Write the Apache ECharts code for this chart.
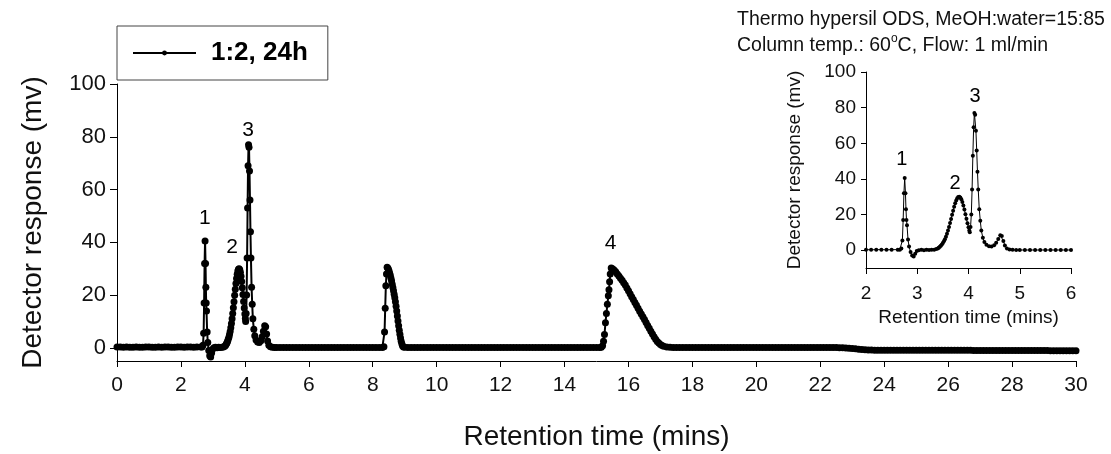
<!DOCTYPE html>
<html>
<head>
<meta charset="utf-8">
<script src="https://cdn.jsdelivr.net/npm/echarts@6/dist/echarts.min.js"></script>
<style>
  html, body { margin: 0; padding: 0; background: #fff; }
  #chart { width: 1111px; height: 454px; }
</style>
</head>
<body>
<div id="chart"></div>
<script>
// chromatogram, 1:2 24h sample. baseline runs are sampled every 0.1 min,
// peak regions are listed point by point
var seriesName = '1:2, 24h';
var sampleStep = 0.1;

var base0 = [0.3,0.3,0.2,0.3,0.2,0.2,0.3,0.2,0.2,0.3,
             0.3,0.2,0.2,0.3,0.2,0.3,0.3,0.2,0.2,0.3,
             0.3,0.2,0.3,0.3,0.2,0.3];            // 0.0 - 2.5

var peaks123 = [
  [2.62,0.3],[2.66,0.3],[2.69,1],[2.71,5.5],[2.725,17],[2.74,32],[2.755,40.5],[2.77,32],
  [2.78,23],[2.79,17],[2.80,14],[2.82,6],[2.84,2],[2.87,-1],[2.9,-3],[2.93,-3.5],[2.96,-2],
  [2.99,-0.5],[3.03,0],[3.08,0.2],[3.13,0],[3.18,0.2],[3.23,0.1],[3.28,0.2],[3.33,0.3],
  [3.37,0.6],[3.40,1.0],[3.42,1.4],[3.44,1.9],[3.46,2.5],[3.48,3.2],[3.50,4.0],[3.52,5.0],
  [3.54,6.2],[3.56,7.6],[3.58,9.2],[3.60,11.0],[3.62,13.0],[3.64,15.2],[3.66,17.5],[3.68,19.9],
  [3.70,22.2],[3.72,24.4],[3.74,26.3],[3.76,27.9],[3.78,29.1],[3.80,29.8],[3.82,30.0],[3.84,29.6],
  [3.86,28.6],[3.88,27.1],[3.90,25.1],[3.92,22.8],[3.94,20.2],[3.96,17.6],[3.98,15.1],[4.00,12.8],
  [4.015,11.1],[4.025,10],[4.04,13],[4.055,20],
  [4.07,34],[4.085,53],[4.10,69],[4.115,77],[4.13,76],[4.145,67],[4.16,56],[4.175,44],
  [4.19,34],[4.21,23],[4.23,16.5],[4.25,11],[4.28,7],[4.31,4.6],[4.35,3],[4.40,2.2],
  [4.45,2],[4.50,2.7],[4.54,4.2],[4.58,6.3],[4.62,8.4],[4.65,8],[4.68,5.2],[4.71,2.6],
  [4.75,1],[4.80,0.4],[4.86,0.2],[4.93,0.1],[5.0,0.1]
];

var base5 = [0.1,0.1,0.1,0.1,0.1,0.1,0.1,0.1,0.1,0.1,
             0.1,0.1,0.1,0.1,0.1,0.1,0.1,0.1,0.1,0.1,
             0.1,0.1,0.1,0.1,0.1,0.1,0.1,0.1,0.1,0.1,
             0.1,0.1];                             // 5.1 - 8.2

var peak8 = [
  [8.30,0.1],[8.35,0.4],[8.37,6],[8.39,15],[8.41,23.5],[8.43,28],[8.45,30.5],[8.47,30.3],
  [8.49,29.8],[8.51,29.1],[8.53,28.3],[8.55,27.4],[8.57,26.4],[8.59,25.3],[8.61,24.1],[8.63,22.9],
  [8.65,21.6],[8.67,20.3],[8.69,19.0],[8.71,17.5],[8.73,15.8],[8.75,14.0],[8.77,12.1],[8.79,10.2],
  [8.81,8.4],[8.83,6.7],[8.85,5.1],[8.87,3.7],[8.89,2.5],[8.91,1.5],[8.93,0.8],[8.96,0.3],[9.0,0.2]
];

var base9 = [0.1,0.1,0.1,0.1,0.1,0.1,0.1,0.1,0.1,0.1,
             0.1,0.1,0.1,0.1,0.1,0.1,0.1,0.1,0.1,0.1,
             0.1,0.1,0.1,0.1,0.1,0.1,0.1,0.1,0.1,0.1,
             0.1,0.1,0.1,0.1,0.1,0.1,0.1,0.1,0.1,0.1,
             0.1,0.1,0.1,0.1,0.1,0.1,0.1,0.1,0.1,0.1,
             0.1,0.1,0.1,0.1,0.1,0.1,0.1,0.1,0.1,0.1,
             0.1];                                 // 9.1 - 15.1

var peak15 = [
  [15.15,0.2],[15.19,0.8],[15.22,2.5],[15.25,5],[15.28,9.5],[15.31,13],[15.34,16.5],[15.37,19.7],
  [15.39,22],[15.41,25],[15.43,28],[15.46,30.3],[15.50,30],[15.55,29.5],[15.60,28.8],[15.65,28],
  [15.70,27.2],[15.75,26.4],[15.80,25.6],[15.85,24.7],[15.90,23.8],[15.95,22.7],[16.00,21.6],
  [16.05,20.5],[16.10,19.4],[16.15,18.3],[16.20,17.2],[16.25,16.1],[16.30,15.0],[16.35,13.9],
  [16.40,12.8],[16.45,11.8],[16.50,10.7],[16.55,9.6],[16.60,8.5],[16.65,7.4],[16.70,6.3],
  [16.75,5.2],[16.80,4.2],[16.85,3.2],[16.90,2.4],[16.95,1.8],[17.00,1.3],[17.05,0.9],
  [17.10,0.6],[17.20,0.3],[17.30,0.2],[17.40,0.1]
];

var base17 = [0.1,0.1,0.1,0.1,0.1,0.1,0.1,0.1,0.1,0.1,
              0.1,0.1,0.1,0.1,0.1,0.1,0.1,0.1,0.1,0.1,
              0.1,0.1,0.1,0.1,0.1,0.1,0.1,0.1,0.1,0.1,
              0.1,0.1,0.1,0.1,0.1,0.1,0.1,0.1,0.1,0.1,
              0.1,0.1,0.1,0.1,0.1,0.1,0.1,0.1,0.1,0.1,
              0.1,0,0,-0.1,-0.2,-0.3,-0.4,-0.5,-0.6,-0.7,
              -0.8,-0.8,-0.9,-0.9,-0.9,-0.9,-0.9,-0.9,-0.9,-0.9,
              -0.9,-0.9,-0.9,-0.9,-0.9,-0.9,-0.9,-0.9,-0.9,-0.9,
              -0.9,-0.9,-0.9,-0.9,-0.9,-0.9,-0.9,-0.9,-0.9,-0.9,
              -0.9,-0.9,-0.9,-1,-1,-1,-1,-1,-1,-1,
              -1,-1,-1,-1,-1,-1,-1,-1,-1,-1,
              -1,-1,-1,-1,-1,-1,-1,-1.1,-1.1,-1.1,
              -1.1,-1.1,-1.1,-1.1,-1.1,-1.1];      // 17.5 - 30.0

var mainYTicks = [0, 20, 40, 60, 80, 100];
var insetYTicks = [0, 20, 40, 60, 80, 100];

// peak numbers: label, time, height of the label
var peakNames = ['1', '2', '3', '4'];
var peakNameT = [2.75, 3.6, 4.1, 15.44];
var peakNameY = [49, 38, 82.5, 39.5];
var insetNames = ['1', '2', '3'];
var insetNameT = [2.7, 3.74, 4.13];
var insetNameY = [51, 37.6, 86];

function addRun(out, start, values) {
    values.forEach(function (v, i) {
        out.push([+(start + i * sampleStep).toFixed(2), v]);
    });
}

var trace = [];
addRun(trace, 0, base0);
trace = trace.concat(peaks123);
addRun(trace, 5.1, base5);
trace = trace.concat(peak8);
addRun(trace, 9.1, base9);
trace = trace.concat(peak15);
addRun(trace, 17.5, base17);

var insetTrace = trace.filter(function (p) { return p[0] >= 2 && p[0] <= 6; });

var mainLabels = peakNames.map(function (n, i) { return [peakNameT[i], peakNameY[i], n]; });
var insetLabels = insetNames.map(function (n, i) { return [insetNameT[i], insetNameY[i], n]; });

var font = 'Liberation Sans, Arial, sans-serif';
var ink = '#111';

var myChart = echarts.init(document.getElementById('chart'));
var option = {
    backgroundColor: '#fff',
    animation: false,
    title: {
        text: 'Thermo hypersil ODS, MeOH:water=15:85\nColumn temp.: 60{sup|o}C, Flow: 1 ml/min',
        left: 737,
        top: 7,
        padding: 0,
        textStyle: {
            fontFamily: font, fontSize: 19.5, fontWeight: 'normal', color: ink, lineHeight: 26,
            rich: {
                sup: { fontFamily: font, fontSize: 12, color: ink, verticalAlign: 'top', lineHeight: 20 }
            }
        }
    },
    legend: {
        data: [seriesName],
        left: 117,
        top: 26,
        padding: [14, 20, 14, 15],
        borderColor: '#444',
        borderWidth: 1,
        itemWidth: 63,
        itemHeight: 6,
        textStyle: { fontFamily: font, fontSize: 26, fontWeight: 'bold', color: '#000', padding: [0, 0, 0, 10] }
    },
    grid: [
        { left: 117, right: 35, top: 84, bottom: 93, outerBoundsMode: 'none' },
        { left: 866, right: 40, top: 72, bottom: 186, outerBoundsMode: 'none' }
    ],
    xAxis: [{
        gridIndex: 0, type: 'value', min: 0, max: 30, interval: 2,
        name: 'Retention time (mins)', nameLocation: 'middle', nameGap: 62,
        nameTextStyle: { fontFamily: font, fontSize: 28, color: ink },
        axisLine: { onZero: false, lineStyle: { color: '#000', width: 1 } },
        axisTick: { inside: false, length: 6, lineStyle: { color: '#000' } },
        axisLabel: { fontFamily: font, fontSize: 21, color: ink, margin: 14 },
        splitLine: { show: false }
    }, {
        gridIndex: 1, type: 'value', min: 2, max: 6, interval: 1,
        name: 'Retention time (mins)', nameLocation: 'middle', nameGap: 40,
        nameTextStyle: { fontFamily: font, fontSize: 19, color: ink },
        axisLine: { onZero: false, lineStyle: { color: '#000', width: 1 } },
        axisTick: { inside: false, length: 6, lineStyle: { color: '#000' } },
        axisLabel: { fontFamily: font, fontSize: 19, color: ink, margin: 16 },
        splitLine: { show: false }
    }],
    yAxis: [{
        gridIndex: 0, type: 'value', min: -5, max: 100,
        name: 'Detector response (mv)', nameLocation: 'middle', nameGap: 70,
        nameTextStyle: { fontFamily: font, fontSize: 28, color: ink },
        axisLine: { show: true, lineStyle: { color: '#000', width: 1 } },
        axisTick: { show: true, length: 7, customValues: mainYTicks, lineStyle: { color: '#000' } },
        axisLabel: { fontFamily: font, fontSize: 22, color: ink, margin: 11, customValues: mainYTicks },
        splitLine: { show: false }
    }, {
        gridIndex: 1, type: 'value', min: -10, max: 100,
        name: 'Detector response (mv)', nameLocation: 'middle', nameGap: 62,
        nameTextStyle: { fontFamily: font, fontSize: 19, color: ink },
        axisLine: { show: true, lineStyle: { color: '#000', width: 1 } },
        axisTick: { show: true, length: 5, customValues: insetYTicks, lineStyle: { color: '#000' } },
        axisLabel: { fontFamily: font, fontSize: 19, color: ink, margin: 10, customValues: insetYTicks },
        splitLine: { show: false }
    }],
    series: [{
        name: seriesName,
        type: 'line',
        xAxisIndex: 0, yAxisIndex: 0,
        data: trace,
        symbol: 'circle',
        symbolSize: 7,
        showAllSymbol: true,
        itemStyle: { color: '#000' },
        lineStyle: { color: '#000', width: 2 }
    }, {
        name: 'inset',
        type: 'line',
        xAxisIndex: 1, yAxisIndex: 1,
        data: insetTrace,
        symbol: 'circle',
        symbolSize: 4,
        showAllSymbol: true,
        clip: true,
        itemStyle: { color: '#000' },
        lineStyle: { color: '#000', width: 1 }
    }, {
        name: 'peak numbers',
        type: 'scatter',
        xAxisIndex: 0, yAxisIndex: 0,
        data: mainLabels,
        symbolSize: 0,
        itemStyle: { color: '#000', opacity: 1 },
        label: {
            show: true, position: 'inside', fontFamily: font, fontSize: 21, color: '#000',
            textBorderWidth: 0, opacity: 1,
            formatter: function (p) { return p.value[2]; }
        }
    }, {
        name: 'inset numbers',
        type: 'scatter',
        xAxisIndex: 1, yAxisIndex: 1,
        data: insetLabels,
        symbolSize: 0,
        itemStyle: { color: '#000', opacity: 1 },
        label: {
            show: true, position: 'inside', fontFamily: font, fontSize: 20, color: '#000',
            textBorderWidth: 0, opacity: 1,
            formatter: function (p) { return p.value[2]; }
        }
    }]
};
myChart.setOption(option);
</script>
</body>
</html>
